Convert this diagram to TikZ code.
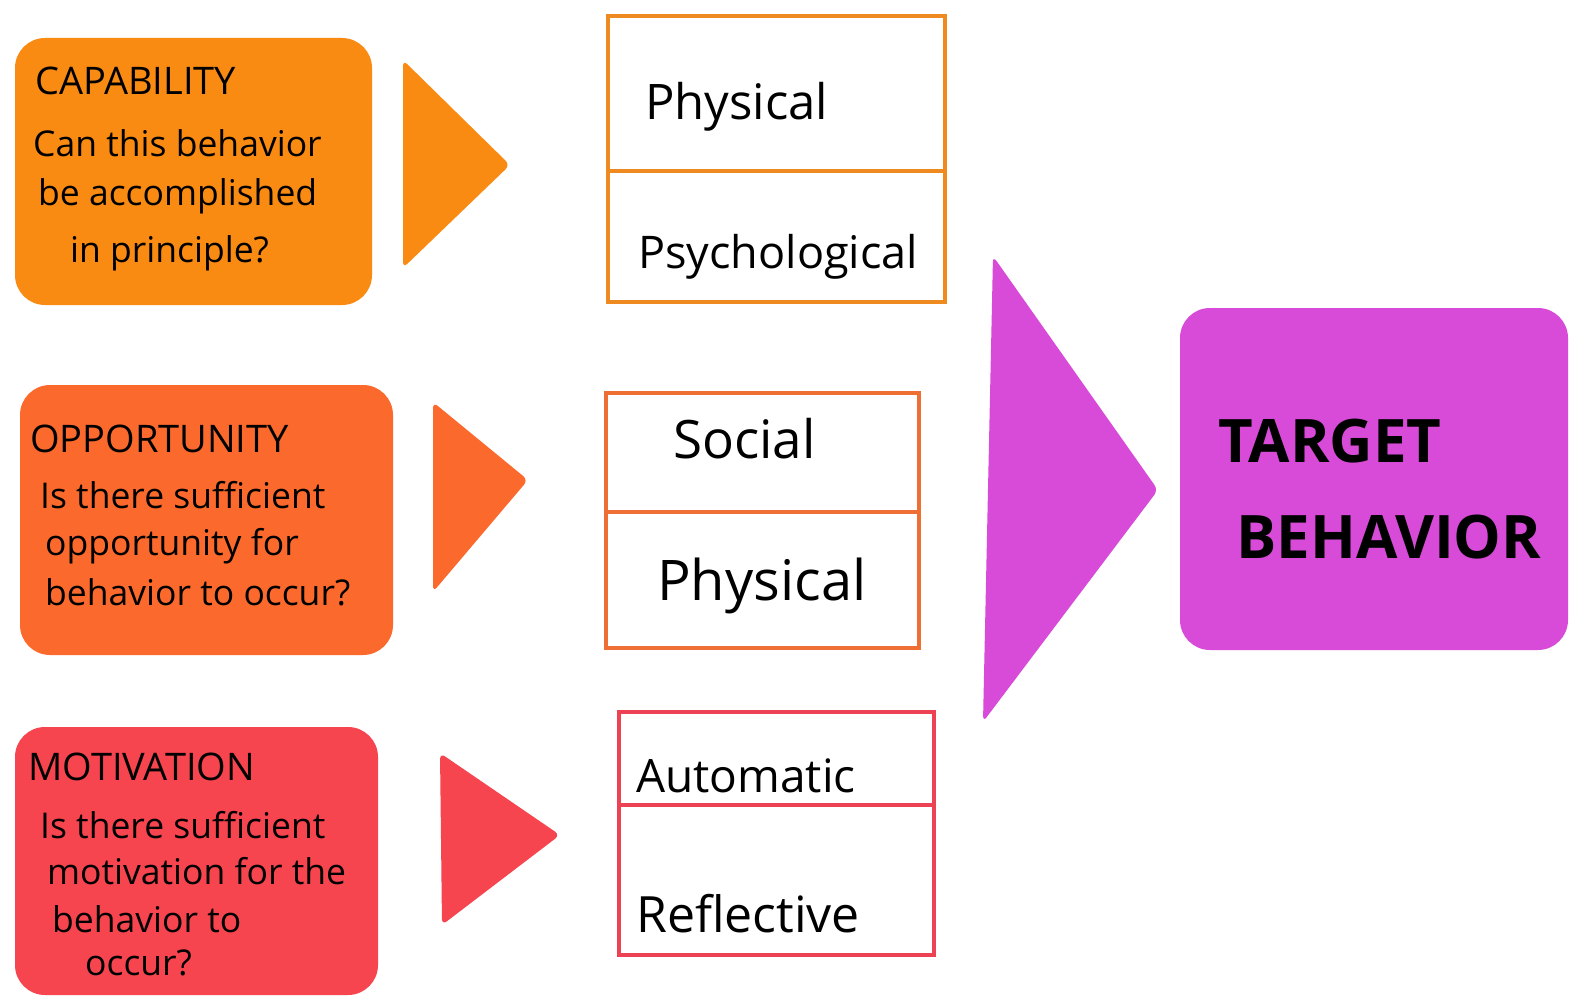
\documentclass[tikz,border=0pt]{standalone}
\usepackage{fontspec}
\setmainfont{Open Sans}
\definecolor{capc}{HTML}{F98B12}
\definecolor{oppc}{HTML}{FB6A2C}
\definecolor{motc}{HTML}{F6454E}
\definecolor{tgtc}{HTML}{D84BD8}
\definecolor{capl}{HTML}{EF8A20}
\definecolor{oppl}{HTML}{EE6E33}
\definecolor{motl}{HTML}{EC4253}
\tikzset{
  qbox/.style={rounded corners=30, inner sep=0pt},
  head/.style={anchor=base west, inner sep=0pt, font=\fontsize{38}{42}\selectfont},
  body/.style={anchor=base west, inner sep=0pt, font=\fontsize{35.5}{40}\selectfont},
  half/.style={draw=#1, line width=4pt, inner sep=0pt},
  sub/.style={anchor=base west, inner sep=0pt, font=\fontsize{#1}{#1}\selectfont},
  big/.style={anchor=base west, inner sep=0pt, font=\fontsize{60}{66}\selectfont\bfseries},
  wedge/.style={rounded corners=6}
}
\begin{document}
\begin{tikzpicture}[x=1pt,y=-1pt]
\useasboundingbox (0,0) rectangle (1580,1006);
\fill[white] (0,0) rectangle (1580,1006);

% left question boxes
\node[qbox, fill=capc, minimum width=357pt, minimum height=267pt] (cap) at (193.5,171.5) {};
\node[qbox, fill=oppc, minimum width=373pt, minimum height=270pt] (opp) at (206.5,520) {};
\node[qbox, fill=motc, minimum width=363pt, minimum height=268pt] (mot) at (196.5,861) {};

\node[head] (caph) at (35,95) {CAPABILITY};
\node[body] (cap1) at (33,157) {Can this behavior};
\node[body] (cap2) at (38,205) {be accomplished};
\node[body] (cap3) at (70,262) {in principle?};

\node[head] (opph) at (30,452) {OPPORTUNITY};
\node[body] (opp1) at (40,508) {Is there sufficient};
\node[body] (opp2) at (45,555) {opportunity for};
\node[body] (opp3) at (45,605) {behavior to occur?};

\node[head] (moth) at (28,780) {MOTIVATION};
\node[body] (mot1) at (40,838) {Is there sufficient};
\node[body] (mot2) at (47,884) {motivation for the};
\node[body] (mot3) at (52,932) {behavior to};
\node[body] (mot4) at (85,975) {occur?};

% small wedges
\fill[capc, wedge] (403,60) -- (510,165) -- (403,268) -- cycle;
\fill[oppc, wedge] (433,402) -- (528,480) -- (433,592) -- cycle;
\fill[motc, wedge] (440,753) -- (560,835) -- (442,925) -- cycle;

% component boxes
\node[half=capl, minimum width=337pt, minimum height=155pt] (cphy) at (776.5,94) {};
\node[half=capl, minimum width=337pt, minimum height=130pt] (cpsy) at (776.5,236.5) {};
\node[half=oppl, minimum width=313pt, minimum height=119pt] (osoc) at (762.5,452) {};
\node[half=oppl, minimum width=313pt, minimum height=136pt] (ophy) at (762.5,580) {};
\node[half=motl, minimum width=315pt, minimum height=93pt] (maut) at (776.5,758) {};
\node[half=motl, minimum width=315pt, minimum height=150pt] (mref) at (776.5,880) {};

\node[sub=49] (tphy) at (645,120) {Physical};
\node[sub=45] (tpsy) at (638,268) {Psychological};
\node[sub=53] (tsoc) at (673,458) {Social};
\node[sub=56] (tphy2) at (657,600) {Physical};
\node[sub=46] (taut) at (636,792) {Automatic};
\node[sub=50] (tref) at (636,932) {Reflective};

% big wedge and target
\fill[tgtc, wedge] (993,256) -- (1158,490) -- (983,722) -- cycle;
\node[qbox, fill=tgtc, minimum width=388pt, minimum height=342pt] (tgt) at (1374,479) {};
\node[big] (tg1) at (1218,462) {TARGET};
\node[big] (tg2) at (1236,558) {BEHAVIOR};
\end{tikzpicture}
\end{document}
